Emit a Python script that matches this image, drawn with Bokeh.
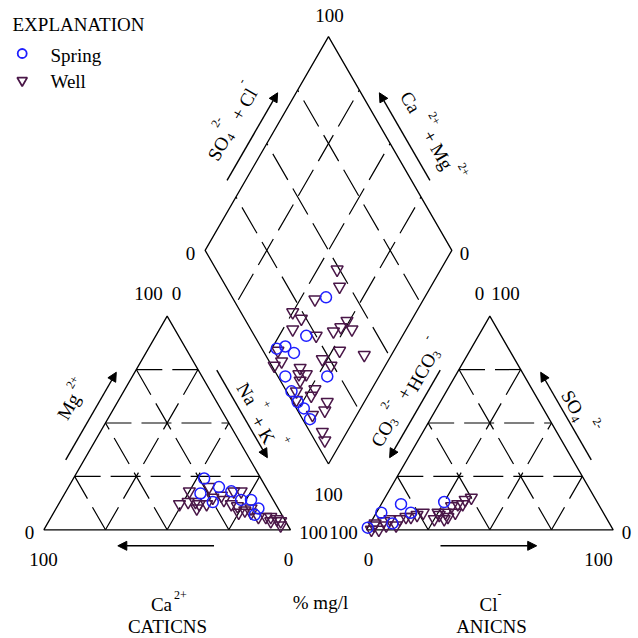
import numpy as np
from bokeh.plotting import figure
from bokeh.models import Range1d, Arrow, NormalHead
from bokeh.core.properties import value
from bokeh.embed import file_html
from bokeh.resources import INLINE

# ---------------- data (percent) ----------------
# Cation triangle
cat_spring_mg = [24, 20, 18, 17, 14, 14, 10, 13, 7]
cat_spring_nak = [53, 61, 67, 55, 73, 77, 82, 62, 82]
cat_well_mg = [18, 20, 12, 13, 13, 12, 12, 15, 18, 18, 12, 11, 9, 8, 8, 6, 6, 6, 5, 4, 2, 16, 10, 4, 14, 10]
cat_well_nak = [50, 57, 49, 52, 55, 57, 60, 61, 68, 71, 70, 73, 77, 80, 75, 84, 87, 89, 92, 94, 95, 64, 79, 90, 66, 57]
# Anion triangle
an_spring_so4 = [1, 8, 12, 8, 3, 13]
an_spring_cl = [0, 2, 8, 14, 9, 25]
an_well_so4 = [0, 3, 4, 0, 2, 5, 5, 6, 6, 7, 8, 5, 8, 5, 8, 11, 8, 12, 12, 14, 15, 7, 6, 2, 2]
an_well_cl = [2, 2, 5, 5, 7, 7, 11, 13, 15, 17, 19, 25, 25, 29, 28, 29, 32, 31, 33, 33, 35, 26, 30, 2, 11]
# Diamond (Ca+Mg, SO4+Cl)
dia_spring_camg = [40, 39, 45, 40, 48, 38, 21, 32, 27, 23, 18]
dia_spring_so4cl = [38, 21, 10, 12, 6, 3, 20, 2, 2, 3, 3]
dia_well_camg = [42, 37, 44, 50, 45, 46, 35, 29, 27, 26, 22, 22, 11, 47, 43, 45, 27, 22, 33, 30, 31, 23, 30, 23, 15, 14, 18, 10, 7, 34, 28]
dia_well_so4cl = [49, 46, 33, 21, 23, 17, 25, 33, 37, 41, 41, 31, 40, 6, 5, 1, 22, 24, 9, 12, 8, 12, 4, 9, 14, 11, 5, 5, 4, 11, 2]

grid_levels = [25, 50, 75]

# ---------------- geometry ----------------
S = 246.7          # pixels per triangle side
OX, OY = 43.3, 529.3
G = 0.308          # gap between triangles (in side units)
H = np.sqrt(3) / 2
FONT = value("Liberation Serif")
BIG = "19px"
SMALL = "12px"
SPRING_C = "#1f1fff"
WELL_C = "#4a1748"


def P(px, py):
    return (px - OX) / S, (OY - py) / S


def cation_xy(mg, nak):
    m = np.asarray(mg, float) / 100
    n = np.asarray(nak, float) / 100
    return n + m / 2, m * H


def anion_xy(so4, cl):
    s = np.asarray(so4, float) / 100
    c = np.asarray(cl, float) / 100
    return 1 + G + c + s / 2, s * H


def diamond_xy(camg, so4cl):
    a = np.asarray(camg, float) / 100
    b = np.asarray(so4cl, float) / 100
    return 1 + G / 2 + 0.5 * (b - a), G * H + H * (a + b)


p = figure(width=638, height=638, output_backend="svg", toolbar_location=None,
           x_range=Range1d(-OX / S, (638 - OX) / S),
           y_range=Range1d(-(638 - OY) / S, OY / S),
           x_axis_type=None, y_axis_type=None, min_border=0)
p.grid.visible = False
p.outline_line_color = None
p.background_fill_color = "white"
p.border_fill_color = "white"


def pt(f, *a):
    x, y = f(*a)
    return float(x), float(y)

# ---------------- dashed grid ----------------
def add_grid(segs, offset):
    p.multi_line([[a[0], b[0]] for a, b in segs], [[a[1], b[1]] for a, b in segs],
                 line_color="black", line_width=1.2, line_dash="30 10", line_dash_offset=offset)

tri_segs, dia_segs = [], []
for k in grid_levels:
    for f in (cation_xy, anion_xy):
        tri_segs.append((pt(f, k, 0), pt(f, k, 100 - k)))          # horizontal, from left
        tri_segs.append((pt(f, 0, k), pt(f, 100 - k, k)))          # from base upward
        tri_segs.append((pt(f, 0, 100 - k), pt(f, 100 - k, 0)))    # from base upward
    dia_segs.append((pt(diamond_xy, k, 100), pt(diamond_xy, k, 0)))   # start at upper edge
    dia_segs.append((pt(diamond_xy, 100, k), pt(diamond_xy, 0, k)))   # start at upper edge
add_grid(tri_segs, 4)
add_grid(dia_segs, 28)

# ---------------- outlines ----------------
tri_l = [pt(cation_xy, 0, 0), pt(cation_xy, 0, 100), pt(cation_xy, 100, 0), pt(cation_xy, 0, 0)]
tri_r = [pt(anion_xy, 0, 0), pt(anion_xy, 0, 100), pt(anion_xy, 100, 0), pt(anion_xy, 0, 0)]
dia = [pt(diamond_xy, 0, 0), pt(diamond_xy, 100, 0), pt(diamond_xy, 100, 100), pt(diamond_xy, 0, 100), pt(diamond_xy, 0, 0)]
p.multi_line([[q[0] for q in t] for t in (tri_l, tri_r, dia)],
             [[q[1] for q in t] for t in (tri_l, tri_r, dia)],
             line_color="black", line_width=1.3)

# ---------------- arrows ----------------
def side_arrow(a, b, normal, f0=0.29, f1=0.70, d=16):
    ax_, ay_ = a; bx_, by_ = b
    nx, ny = normal
    xs = ax_ + f0 * (bx_ - ax_) + nx * d / S
    ys = ay_ + f0 * (by_ - ay_) + ny * d / S
    xe = ax_ + f1 * (bx_ - ax_) + nx * d / S
    ye = ay_ + f1 * (by_ - ay_) + ny * d / S
    p.add_layout(Arrow(x_start=xs, y_start=ys, x_end=xe, y_end=ye, line_width=1.4,
                       end=NormalHead(size=9, fill_color="black", line_color="black", line_width=1)))

cl0, cr0, ct = pt(cation_xy, 0, 0), pt(cation_xy, 0, 100), pt(cation_xy, 100, 0)
al0, ar0, at = pt(anion_xy, 0, 0), pt(anion_xy, 0, 100), pt(anion_xy, 100, 0)
dl, dt, dr = pt(diamond_xy, 100, 0), pt(diamond_xy, 100, 100), pt(diamond_xy, 0, 100)
side_arrow(cl0, ct, (-H, 0.5))             # Mg up
side_arrow(ct, cr0, (H, 0.5))              # Na+K down
side_arrow(cr0, cl0, (0, -1), 0.31, 0.70)  # Ca left
side_arrow(at, al0, (-H, 0.5))             # CO3+HCO3 down
side_arrow(ar0, at, (H, 0.5))              # SO4 up
side_arrow(al0, ar0, (0, -1), 0.30, 0.69)  # Cl right
side_arrow(dl, dt, (-H, 0.5))              # SO4+Cl up
side_arrow(dr, dt, (H, 0.5))               # Ca+Mg up

# ---------------- data points ----------------
def circles(x, y):
    p.scatter(x, y, marker="circle", size=11, fill_color=None, line_color=SPRING_C, line_width=1.5)

def wells(x, y):
    p.scatter(x, y, marker="inverted_triangle", size=12, fill_color=None, line_color=WELL_C, line_width=1.5)

wells(*cation_xy(cat_well_mg, cat_well_nak))
circles(*cation_xy(cat_spring_mg, cat_spring_nak))
wells(*anion_xy(an_well_so4, an_well_cl))
circles(*anion_xy(an_spring_so4, an_spring_cl))
wells(*diamond_xy(dia_well_camg, dia_well_so4cl))
circles(*diamond_xy(dia_spring_camg, dia_spring_so4cl))

# ---------------- texts ----------------
def txt(items, size=BIG, align="center", angle=0.0):
    xs, ys, ts = [], [], []
    for t, px, py in items:
        x, y = P(px, py)
        xs.append(x); ys.append(y); ts.append(t)
    p.text(xs, ys, text=ts, text_font=FONT, text_font_size=size, text_align=align,
           text_baseline="middle", text_color="black", angle=angle)

num_labels = [("100", 329, 15), ("0", 190, 253), ("0", 464, 253),
              ("100", 148, 293), ("0", 176, 293), ("0", 479, 293), ("100", 505, 293),
              ("0", 29, 532), ("100", 313, 532), ("100", 343, 532), ("0", 626, 532),
              ("100", 328, 494),
              ("100", 43, 559), ("0", 288, 559), ("0", 368, 559), ("100", 598, 559)]
txt(num_labels)

txt([("Ca", 161, 604), ("CATICNS", 167, 626), ("% mg/l", 320, 602),
     ("Cl", 488, 604), ("ANICNS", 491, 626)])
txt([("2+", 180, 594), ("-", 499, 593)], size=SMALL)

# legend
txt([("EXPLANATION", 12, 24), ("Spring", 50, 55), ("Well", 50, 81)], align="left")
lx, ly = P(21.7, 53)
p.scatter([lx], [ly], marker="circle", size=9, fill_color=None, line_color=SPRING_C, line_width=1.8)
lx, ly = P(21.7, 80)
p.scatter([lx], [ly], marker="inverted_triangle", size=10, fill_color=None, line_color=WELL_C, line_width=1.8)

# rotated axis titles built from pieces: (text, along, perpendicular, kind)
def rot_label(anchor, deg, pieces):
    a = np.radians(deg)
    ux, uy = np.cos(a), -np.sin(a)
    nx, ny = -np.sin(a), -np.cos(a)
    big, small = [], []
    for t, al, pe, kind in pieces:
        px = anchor[0] + al * ux + pe * nx
        py = anchor[1] + al * uy + pe * ny
        (big if kind == "n" else small).append((t, px, py))
    if big:
        txt(big, size=BIG, angle=a)
    if small:
        txt(small, size=SMALL, angle=a)

rot_label((68, 406), 60, [("Mg", 0, 0, "n"), ("2+", 23, 9, "s")])
rot_label((246.7, 393.3), -60, [("Na", 0, 0, "n"), ("+", 19, 12, "s"), ("+ K", 39, -4, "n"), ("+", 60, 12, "s")])
rot_label((218, 148), 60, [("SO", 0, 0, "n"), ("4", 16, -5, "s"), ("2-", 22, 15, "s"),
                           ("+ Cl", 51, 0, "n"), ("-", 70, 14, "s")])
rot_label((410, 101.7), -60, [("Ca", 0, 0, "n"), ("2+", 26, 13, "s"), ("+ Mg", 55, 0, "n"), ("2+", 85, 13, "s")])
rot_label((381.7, 433.3), 60, [("CO", 0, 0, "n"), ("3", 16, -5, "s"), ("2-", 28, 12, "s"),
                               ("+", 46, 1, "n"), ("HCO", 73, -3, "n"), ("3", 96, -8, "s"), ("-", 106, 10, "s")])
rot_label((571.7, 401.7), -60, [("SO", 0, 0, "n"), ("4", 16, -6, "s"), ("2-", 31, 12, "s")])

open("out.html", "w").write(file_html(p, INLINE))
